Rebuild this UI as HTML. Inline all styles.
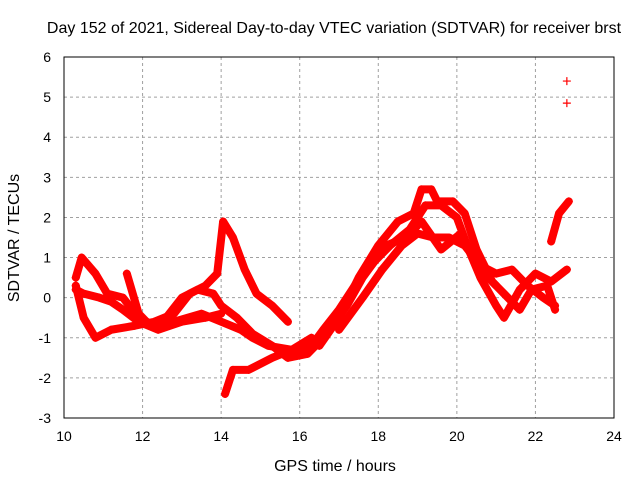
<!DOCTYPE html>
<html><head><meta charset="utf-8"><style>
body{margin:0;background:#fff}
svg text{font-family:"Liberation Sans",sans-serif;font-size:14px;fill:#000}
svg text.big{font-size:16px}
</style></head><body>
<svg id="chart" width="640" height="480" viewBox="0 0 640 480" xmlns="http://www.w3.org/2000/svg">
<text class="big" x="334" y="33" text-anchor="middle">Day 152 of 2021, Sidereal Day-to-day VTEC variation (SDTVAR) for receiver brst</text>
<g id="grid"></g>
<g id="marks"></g>
<rect x="64" y="57" width="550" height="361" fill="none" stroke="#000" stroke-width="1"/>
<g id="ticks"></g>
<text class="big" x="335" y="471" text-anchor="middle">GPS time / hours</text>
<text class="big" transform="translate(19,238) rotate(-90)" text-anchor="middle">SDTVAR / TECUs</text>
</svg>
<script>
const xTicks=[10,12,14,16,18,20,22,24];
const yTicks=[-3,-2,-1,0,1,2,3,4,5,6];
const trackA_t=[10.3,10.45,10.8,11.1,11.5,11.9,12.3,12.8,13.5,14.0,14.5,14.8,15.2,15.8,16.3];
const trackA_v=[0.5,1.0,0.6,0.1,0.0,-0.5,-0.7,-0.6,-0.4,-0.6,-0.8,-1.0,-1.2,-1.3,-1.0];
const trackB_t=[10.3,10.5,10.8,11.2,11.8,12.3,12.8,13.2,13.6,13.9,14.05,14.3,14.6,14.9,15.3,15.7];
const trackB_v=[0.3,-0.5,-1.0,-0.8,-0.7,-0.6,-0.4,0.1,0.3,0.6,1.9,1.5,0.7,0.1,-0.2,-0.6];
const trackC_t=[10.3,10.5,10.9,11.2,11.5,11.9,12.4,13.0,13.6,14.0];
const trackC_v=[0.2,0.1,0.0,-0.1,-0.3,-0.6,-0.8,-0.6,-0.5,-0.4];
const trackD_t=[11.6,11.9,12.2,12.6,13.0,13.4,13.8,14.0,14.4,14.8,15.3,15.7,16.2,16.7,17.2,17.6,18.2,18.7,19.1,19.6,20.1,20.5,20.8,21.0];
const trackD_v=[0.6,-0.4,-0.7,-0.5,0.0,0.2,0.1,-0.2,-0.5,-0.9,-1.2,-1.5,-1.4,-0.9,-0.2,0.5,1.3,1.5,1.9,1.2,1.6,0.8,0.5,0.3];
const trackE_t=[14.1,14.3,14.7,15.3,15.8,16.3,16.6,17.0,17.4,17.9,18.3,18.8,19.2,19.6,20.0,20.3,20.6,21.0,21.2,21.6,22.0,22.4,22.8];
const trackE_v=[-2.4,-1.8,-1.8,-1.5,-1.3,-1.2,-0.8,-0.3,0.3,0.9,1.3,1.7,2.3,2.3,2.0,1.2,0.5,-0.2,-0.5,0.2,0.6,0.4,0.7];
const trackF_t=[16.5,17.0,17.5,18.0,18.5,18.9,19.1,19.35,19.5,19.9,20.2,20.5,20.9,21.3,21.6,21.9,22.3,22.5];
const trackF_v=[-1.2,-0.5,0.5,1.3,1.9,2.1,2.7,2.7,2.4,2.4,2.1,1.2,0.4,0.0,-0.3,0.2,0.3,-0.3];
const trackG_t=[17.0,17.6,18.1,18.6,19.0,19.4,19.8,20.2,20.6,21.0,21.4,21.8,22.2,22.5];
const trackG_v=[-0.8,0.0,0.7,1.3,1.6,1.5,1.5,1.3,0.8,0.6,0.7,0.3,0.0,-0.2];
const trackH_t=[22.4,22.6,22.85];
const trackH_v=[1.4,2.1,2.4];
const outlier_t=[22.8,22.8];
const outlier_v=[5.4,4.85];

const NS="http://www.w3.org/2000/svg";
const X=t=>64+(t-10)*550/14;
const Y=v=>57+(6-v)*361/9;
const grid=document.getElementById('grid'),ticks=document.getElementById('ticks'),marks=document.getElementById('marks');
function mk(tag,attrs,parent){const e=document.createElementNS(NS,tag);for(const k in attrs)e.setAttribute(k,attrs[k]);parent.appendChild(e);return e;}
xTicks.forEach(t=>{
  if(t>10&&t<24){const g=mk('line',{x1:X(t),x2:X(t),y1:57,y2:418,stroke:'#a0a0a0','stroke-dasharray':'3,3'},grid);
  
  }
  const l=mk('text',{x:X(t),y:441,'text-anchor':'middle'},ticks);l.textContent=t;
  
  
});
yTicks.forEach(v=>{
  if(v>-3&&v<6){const g=mk('line',{x1:64,x2:614,y1:Y(v),y2:Y(v),stroke:'#a0a0a0','stroke-dasharray':'3,3'},grid);
  
  }
  const l=mk('text',{x:51,y:Y(v)+5,'text-anchor':'end'},ticks);l.textContent=v;
  
  
});
function plus(t,v){const p=mk('path',{d:`M${X(t)-4},${Y(v)}h8M${X(t)},${Y(v)-4}v8`,stroke:'#f00','stroke-width':1.2},marks);
  
  }
function track(ts,vs,name){
  const pl=mk('polyline',{points:ts.map((t,i)=>X(t)+','+Y(vs[i])).join(' '),fill:'none',stroke:'#f00','stroke-width':8,'stroke-linejoin':'round','stroke-linecap':'round'},marks);
  
  
  ts.forEach((t,i)=>plus(t,vs[i]));
}
track(trackA_t,trackA_v,'track-a');
track(trackB_t,trackB_v,'track-b');
track(trackC_t,trackC_v,'track-c');
track(trackD_t,trackD_v,'track-d');
track(trackE_t,trackE_v,'track-e');
track(trackF_t,trackF_v,'track-f');
track(trackG_t,trackG_v,'track-g');
track(trackH_t,trackH_v,'track-h');
outlier_t.forEach((t,i)=>plus(t,outlier_v[i]));
</script>
</body></html>
